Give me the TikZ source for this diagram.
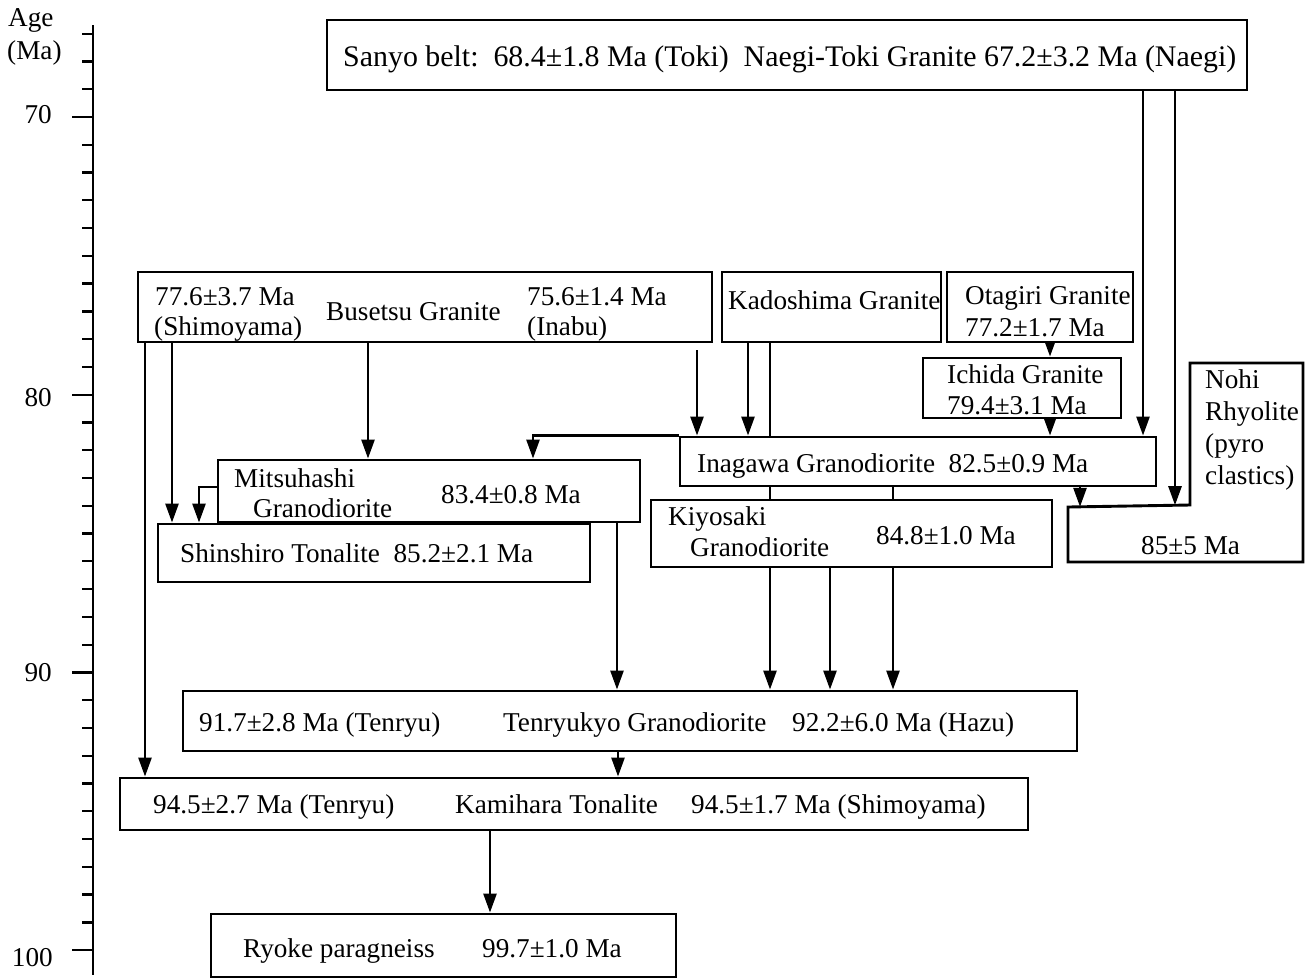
\documentclass[tikz,border=0pt]{standalone}
\usepackage{fontspec}
\setmainfont{Liberation Serif}
\usetikzlibrary{arrows.meta,fit,backgrounds,calc}
\begin{document}
\begin{tikzpicture}[x=1pt,y=-1pt,
  box/.style={draw, line width=2.9pt, fill=white, inner sep=0pt, rectangle},
  arr/.style={line width=2.6pt, -{Triangle[length=19pt,width=13pt]}},
  txt/.style={inner sep=0pt, anchor=base west, font=\fontsize{27.2}{30}\selectfont},
  lbl/.style={inner sep=0pt, anchor=base east, font=\fontsize{27.2}{30}\selectfont},
  tick/.style={line width=2.3pt}]
\useasboundingbox (0,0) rectangle (1305,978);

% axis
\draw[line width=2.8pt] (93,25) -- (93,975);
\foreach \i in {0,...,33} {\draw[tick] (82,33.7+\i*27.77) -- (93,33.7+\i*27.77);}
\foreach \i in {3,13,23,33} {\draw[tick] (72,33.7+\i*27.77) -- (93,33.7+\i*27.77);}
\node[txt] (age) at (8,26) {Age};
\node[txt] (ma) at (7,59) {(Ma)};
\node[lbl] (l70) at (52,123) {70};
\node[lbl] (l80) at (52,406) {80};
\node[lbl] (l90) at (52,681) {90};
\node[lbl] (l100) at (53,966) {100};

% boxes
\node[box, fit={(327,20) (1247,90)}] (sanyo) {};
\node[box, fit={(138,272) (712,342)}] (busetsu) {};
\node[box, fit={(722,272) (941,342)}] (kado) {};
\node[box, fit={(947,272) (1133,342)}] (otagiri) {};
\node[box, fit={(923,358) (1121,418)}] (ichida) {};
\node[box, fit={(680,437) (1156,486)}] (inagawa) {};
\node[box, fit={(218,460) (640,522)}] (mitsu) {};
\node[box, fit={(158,524) (590,582)}] (shin) {};
\node[box, fit={(651,500) (1052,567)}] (kiyo) {};
\node[box, fit={(183,691) (1077,751)}] (tenryu) {};
\node[box, fit={(120,778) (1028,830)}] (kami) {};
\node[box, fit={(211,914) (676,977)}] (ryoke) {};
\draw[line width=2.9pt, fill=white] (1190,363) -- (1303,363) -- (1303,562) -- (1068,562) -- (1068,507) -- (1190,505) -- cycle;
\coordinate (nohiA) at (1080,506.8);
\coordinate (nohiB) at (1175,505.2);

% texts
\node[txt, font=\fontsize{29.9}{32}\selectfont] (tsanyo) at (343,66) {Sanyo belt:\ \ 68.4±1.8 Ma (Toki)\ \ Naegi-Toki Granite 67.2±3.2 Ma (Naegi)};
\node[txt] (tbus1) at (155,305) {77.6±3.7 Ma};
\node[txt] (tbus2) at (154,335) {(Shimoyama)};
\node[txt] (tbus3) at (326,320) {Busetsu Granite};
\node[txt] (tbus4) at (527,305) {75.6±1.4 Ma};
\node[txt] (tbus5) at (527,335) {(Inabu)};
\node[txt] (tkado) at (728,309) {Kadoshima Granite};
\node[txt] (tota1) at (965,304) {Otagiri Granite};
\node[txt] (tota2) at (965,336) {77.2±1.7 Ma};
\node[txt] (tich1) at (947,383) {Ichida Granite};
\node[txt] (tich2) at (947,414) {79.4±3.1 Ma};
\node[txt] (tnohi1) at (1205,388) {Nohi};
\node[txt] (tnohi2) at (1205,420) {Rhyolite};
\node[txt] (tnohi3) at (1205,452) {(pyro};
\node[txt] (tnohi4) at (1205,484) {clastics)};
\node[txt] (tnohi5) at (1141,554) {85±5 Ma};
\node[txt] (tinag) at (697,472) {Inagawa Granodiorite\ \ 82.5±0.9 Ma};
\node[txt] (tmit1) at (234,487) {Mitsuhashi};
\node[txt] (tmit2) at (253,517) {Granodiorite};
\node[txt] (tmit3) at (441,503) {83.4±0.8 Ma};
\node[txt] (tshin) at (180,562) {Shinshiro Tonalite\ \ 85.2±2.1 Ma};
\node[txt] (tkiy1) at (668,525) {Kiyosaki};
\node[txt] (tkiy2) at (690,556) {Granodiorite};
\node[txt] (tkiy3) at (876,544) {84.8±1.0 Ma};
\node[txt] (tten1) at (199,731) {91.7±2.8 Ma (Tenryu)};
\node[txt] (tten2) at (503,731) {Tenryukyo Granodiorite};
\node[txt] (tten3) at (792,731) {92.2±6.0 Ma (Hazu)};
\node[txt] (tkam1) at (153,813) {94.5±2.7 Ma (Tenryu)};
\node[txt] (tkam2) at (455,813) {Kamihara Tonalite};
\node[txt] (tkam3) at (691,813) {94.5±1.7 Ma (Shimoyama)};
\node[txt] (trgk1) at (243,957) {Ryoke paragneiss};
\node[txt] (trgk2) at (482,957) {99.7±1.0 Ma};

% connectors
\begin{pgfonlayer}{background}
\fill[white] (0,0) rectangle (1305,978);
\draw[arr] (1143,0 |- sanyo.south) -- (1143,0 |- inagawa.north);
\draw[arr] (1175,0 |- sanyo.south) -- (nohiB);
\draw[arr] (145,0 |- busetsu.south) -- (145,0 |- kami.north);
\draw[arr] (172,0 |- busetsu.south) -- (172,0 |- shin.north);
\draw[arr] (368,0 |- busetsu.south) -- (368,0 |- mitsu.north);
\draw[arr] ($(busetsu.south -| 697,0)+(0,7)$) -- (697,0 |- inagawa.north);
\draw[arr] (748,0 |- kado.south) -- (748,0 |- inagawa.north);
\draw[arr] (770,0 |- kado.south) -- (770,0 |- tenryu.north);
\draw[arr] (893,0 |- inagawa.south) -- (893,0 |- tenryu.north);
\draw[arr] (830,0 |- kiyo.south) -- (830,0 |- tenryu.north);
\draw[arr] (617,0 |- mitsu.south) -- (617,0 |- tenryu.north);
\draw[arr] (inagawa.north west) -| (533,0 |- mitsu.north);
\draw[arr] (mitsu.west |- 0,487) -| (199,0 |- shin.north);
\draw[arr] (1050,0 |- otagiri.south) -- (1050,0 |- ichida.north);
\draw[arr] (1050,0 |- ichida.south) -- (1050,0 |- inagawa.north);
\draw[arr] (1080,0 |- inagawa.south) -- (nohiA);
\draw[arr] (618,0 |- tenryu.south) -- (618,0 |- kami.north);
\draw[arr] (490,0 |- kami.south) -- (490,0 |- ryoke.north);
\end{pgfonlayer}
\end{tikzpicture}
\end{document}
